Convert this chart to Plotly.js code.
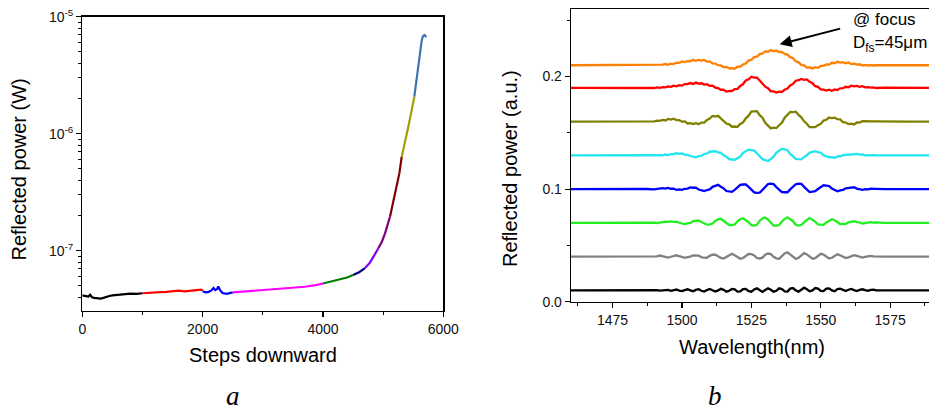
<!DOCTYPE html>
<html>
<head>
<meta charset="utf-8">
<script src="https://cdn.plot.ly/plotly-3.0.1.min.js"></script>
<style>html,body{margin:0;padding:0;background:#fff;}#chart{width:929px;height:414px;}</style>
</head>
<body>
<div id="chart"></div>
<script>
// ---------- Panel a: reflected power vs steps (log scale) ----------
const segColors = ['#000000','#FF0000','#0000FF','#FF00FF','#008000','#000080','#8000FF','#800080','#800000','#A0A000','#3B75AF'];
const segSteps = [
  [0,50,100,130,160,200,250,300,350,400,450,500,600,700,800,900,1000],
  [1000,1100,1200,1300,1400,1500,1600,1700,1800,1900,1980,2000],
  [2000,2050,2100,2150,2180,2210,2240,2260,2290,2330,2400,2450,2500],
  [2500,2700,2900,3100,3300,3500,3700,3900,4000],
  [4000,4100,4200,4300,4400,4500],
  [4500,4600,4700],
  [4700,4780,4840,4880,4920],
  [4920,4980,5030,5080,5114],
  [5114,5170,5225,5270,5309],
  [5309,5360,5419,5470,5518],
  [5518,5550,5585,5613,5640,5658,5685,5700,5713]
];
const segPower = [
  [4.15e-8,4.1e-8,4.05e-8,4.2e-8,4.0e-8,3.95e-8,3.9e-8,3.9e-8,3.95e-8,4.05e-8,4.1e-8,4.15e-8,4.2e-8,4.25e-8,4.3e-8,4.28e-8,4.33e-8],
  [4.33e-8,4.38e-8,4.4e-8,4.42e-8,4.45e-8,4.5e-8,4.55e-8,4.5e-8,4.52e-8,4.6e-8,4.65e-8,4.55e-8],
  [4.5e-8,4.4e-8,4.45e-8,4.6e-8,4.8e-8,4.6e-8,4.7e-8,4.95e-8,4.6e-8,4.35e-8,4.28e-8,4.32e-8,4.4e-8],
  [4.4e-8,4.48e-8,4.55e-8,4.62e-8,4.7e-8,4.8e-8,4.92e-8,5.1e-8,5.25e-8],
  [5.25e-8,5.4e-8,5.55e-8,5.7e-8,5.9e-8,6.2e-8],
  [6.2e-8,6.55e-8,7.1e-8],
  [7.1e-8,7.9e-8,8.9e-8,9.7e-8,1.05e-7],
  [1.05e-7,1.2e-7,1.4e-7,1.7e-7,1.95e-7],
  [1.95e-7,2.6e-7,3.5e-7,4.6e-7,6.36e-7],
  [6.36e-7,8.2e-7,1.15e-6,1.55e-6,2.07e-6],
  [2.07e-6,2.8e-6,4.0e-6,5.2e-6,6.2e-6,6.75e-6,6.97e-6,6.9e-6,6.66e-6]
];
const logTickVals = [1e-7,1e-6,1e-5];
const logTickText = ['10<sup>-7</sup>','10<sup>-6</sup>','10<sup>-5</sup>'];
const logMinorVals = [4e-8,5e-8,6e-8,7e-8,8e-8,9e-8,2e-7,3e-7,4e-7,5e-7,6e-7,7e-7,8e-7,9e-7,2e-6,3e-6,4e-6,5e-6,6e-6,7e-6,8e-6,9e-6];
const stepTicks = [0,2000,4000,6000];
const stepMinor = [1000,3000,5000];

// ---------- Panel b: reflected spectra ----------
const wavelength = [1460,1465,1470,1475,1480,1484,1487,
1490,1491,1492,1493,1494,1495,1496,1497,1498,1499,
1500,1501,1502,1503,1504,1505,1506,1507,1508,1509,
1510,1511,1512,1513,1514,1515,1516,1517,1518,1519,
1520,1521,1522,1523,1524,1525,1526,1527,1528,1529,
1530,1531,1532,1533,1534,1535,1536,1537,1538,1539,
1540,1541,1542,1543,1544,1545,1546,1547,1548,1549,
1550,1551,1552,1553,1554,1555,1556,1557,1558,1559,
1560,1561,1562,1563,1564,1565,1566,1567,1568,1569,
1570,1573,1577,1581,1585,1589];

const specOrange = [0.2100,0.2101,0.2099,0.2101,0.2100,0.2102,0.2099,
0.2102,0.2100,0.2106,0.2105,0.2111,0.2105,0.2115,0.2110,0.2124,0.2121,
0.2134,0.2128,0.2137,0.2135,0.2148,0.2139,0.2148,0.2142,0.2147,0.2132,
0.2134,0.2116,0.2115,0.2101,0.2100,0.2082,0.2086,0.2072,0.2075,0.2069,
0.2087,0.2088,0.2107,0.2115,0.2142,0.2149,0.2172,0.2177,0.2199,0.2206,
0.2223,0.2220,0.2235,0.2226,0.2230,0.2217,0.2219,0.2201,0.2195,0.2172,
0.2163,0.2135,0.2126,0.2104,0.2099,0.2079,0.2080,0.2072,0.2083,0.2077,
0.2094,0.2095,0.2108,0.2106,0.2122,0.2118,0.2131,0.2123,0.2127,0.2118,
0.2125,0.2110,0.2115,0.2106,0.2109,0.2098,0.2104,0.2098,0.2101,0.2098,
0.2102,0.2101,0.2099,0.2101,0.2100,0.2100];

const specRed = [0.1900,0.1899,0.1901,0.1900,0.1900,0.1901,0.1899,
0.1898,0.1903,0.1899,0.1905,0.1903,0.1913,0.1908,0.1919,0.1913,0.1924,
0.1919,0.1933,0.1932,0.1942,0.1934,0.1946,0.1937,0.1940,0.1928,0.1932,
0.1917,0.1919,0.1902,0.1898,0.1881,0.1883,0.1866,0.1872,0.1870,0.1888,
0.1890,0.1916,0.1933,0.1965,0.1976,0.1998,0.1991,0.1991,0.1962,0.1942,
0.1910,0.1897,0.1869,0.1868,0.1858,0.1866,0.1863,0.1883,0.1893,0.1920,
0.1934,0.1963,0.1967,0.1979,0.1971,0.1974,0.1953,0.1941,0.1914,0.1908,
0.1885,0.1884,0.1875,0.1883,0.1874,0.1885,0.1880,0.1895,0.1896,0.1909,
0.1904,0.1919,0.1912,0.1917,0.1909,0.1915,0.1904,0.1906,0.1901,0.1903,
0.1898,0.1901,0.1900,0.1899,0.1901,0.1900];

const specOlive = [0.1600,0.1601,0.1599,0.1600,0.1601,0.1599,0.1600,
0.1601,0.1608,0.1606,0.1615,0.1610,0.1623,0.1617,0.1626,0.1613,0.1612,
0.1599,0.1601,0.1583,0.1586,0.1578,0.1585,0.1577,0.1591,0.1591,0.1614,
0.1627,0.1650,0.1645,0.1651,0.1628,0.1613,0.1582,0.1575,0.1554,0.1556,
0.1553,0.1578,0.1592,0.1629,0.1652,0.1688,0.1693,0.1692,0.1657,0.1634,
0.1588,0.1564,0.1539,0.1546,0.1542,0.1567,0.1590,0.1634,0.1657,0.1685,
0.1684,0.1688,0.1659,0.1637,0.1602,0.1581,0.1550,0.1553,0.1550,0.1568,
0.1579,0.1609,0.1616,0.1636,0.1631,0.1635,0.1621,0.1619,0.1594,0.1591,
0.1578,0.1582,0.1575,0.1592,0.1591,0.1604,0.1602,0.1605,0.1604,0.1601,
0.1602,0.1600,0.1601,0.1599,0.1600,0.1600];

const specCyan = [0.1300,0.1301,0.1299,0.1300,0.1301,0.1299,0.1300,
0.1302,0.1299,0.1303,0.1300,0.1307,0.1302,0.1311,0.1311,0.1318,0.1313,
0.1317,0.1307,0.1305,0.1294,0.1291,0.1282,0.1292,0.1296,0.1311,0.1316,
0.1332,0.1332,0.1336,0.1327,0.1322,0.1300,0.1287,0.1266,0.1264,0.1261,
0.1275,0.1289,0.1322,0.1338,0.1351,0.1346,0.1342,0.1318,0.1295,0.1266,
0.1257,0.1249,0.1267,0.1288,0.1322,0.1341,0.1359,0.1354,0.1344,0.1312,
0.1291,0.1269,0.1266,0.1264,0.1284,0.1300,0.1324,0.1330,0.1337,0.1329,
0.1323,0.1301,0.1294,0.1283,0.1283,0.1279,0.1291,0.1292,0.1301,0.1303,
0.1310,0.1312,0.1308,0.1312,0.1306,0.1308,0.1299,0.1301,0.1298,0.1301,
0.1299,0.1300,0.1301,0.1299,0.1300,0.1300];

const specBlue = [0.1000,0.1001,0.0999,0.1000,0.1001,0.0999,0.1001,
0.0998,0.1003,0.1003,0.1009,0.1004,0.1011,0.1003,0.1003,0.0994,0.0997,
0.0993,0.1003,0.1005,0.1015,0.1012,0.1013,0.0996,0.0991,0.0983,0.0992,
0.0997,0.1020,0.1031,0.1038,0.1021,0.1007,0.0983,0.0979,0.0976,0.0993,
0.1012,0.1038,0.1041,0.1042,0.1019,0.0999,0.0971,0.0967,0.0969,0.0993,
0.1016,0.1045,0.1048,0.1044,0.1018,0.0999,0.0974,0.0972,0.0972,0.0998,
0.1017,0.1043,0.1048,0.1047,0.1020,0.0999,0.0974,0.0977,0.0981,0.1001,
0.1015,0.1034,0.1031,0.1026,0.1006,0.0995,0.0981,0.0989,0.0994,0.1007,
0.1010,0.1013,0.1016,0.1005,0.1002,0.0993,0.0999,0.0997,0.1003,0.1000,
0.1002,0.1000,0.1001,0.0999,0.1000,0.1000];

const specGreen = [0.0700,0.0701,0.0699,0.0700,0.0701,0.0699,0.0700,
0.0701,0.0698,0.0703,0.0703,0.0711,0.0709,0.0714,0.0709,0.0710,0.0701,
0.0698,0.0690,0.0696,0.0700,0.0715,0.0718,0.0721,0.0707,0.0697,0.0684,
0.0687,0.0694,0.0718,0.0731,0.0736,0.0717,0.0700,0.0681,0.0681,0.0686,
0.0714,0.0732,0.0741,0.0726,0.0706,0.0679,0.0675,0.0683,0.0718,0.0739,
0.0748,0.0730,0.0707,0.0675,0.0675,0.0681,0.0712,0.0736,0.0749,0.0735,
0.0715,0.0683,0.0676,0.0682,0.0707,0.0727,0.0743,0.0730,0.0711,0.0686,
0.0682,0.0683,0.0704,0.0720,0.0733,0.0723,0.0710,0.0690,0.0690,0.0691,
0.0705,0.0710,0.0716,0.0707,0.0704,0.0694,0.0698,0.0698,0.0706,0.0703,
0.0704,0.0700,0.0701,0.0699,0.0700,0.0700];

const specGray = [0.0400,0.0401,0.0399,0.0400,0.0401,0.0399,0.0400,
0.0401,0.0403,0.0410,0.0403,0.0399,0.0392,0.0399,0.0404,0.0412,0.0404,
0.0398,0.0390,0.0395,0.0400,0.0412,0.0414,0.0410,0.0394,0.0390,0.0390,
0.0407,0.0417,0.0418,0.0400,0.0389,0.0383,0.0399,0.0414,0.0426,0.0413,
0.0396,0.0381,0.0388,0.0404,0.0424,0.0423,0.0411,0.0388,0.0384,0.0391,
0.0417,0.0428,0.0423,0.0398,0.0385,0.0381,0.0407,0.0428,0.0439,0.0418,
0.0396,0.0379,0.0390,0.0410,0.0431,0.0420,0.0402,0.0382,0.0387,0.0406,
0.0426,0.0418,0.0402,0.0384,0.0390,0.0406,0.0421,0.0412,0.0399,0.0387,
0.0394,0.0403,0.0413,0.0406,0.0399,0.0392,0.0399,0.0401,0.0407,0.0402,
0.0401,0.0400,0.0401,0.0399,0.0400,0.0400];

const specBlack = [0.0100,0.0101,0.0099,0.0100,0.0101,0.0099,0.0100,
0.0100,0.0102,0.0098,0.0102,0.0100,0.0105,0.0097,0.0100,0.0108,0.0098,
0.0094,0.0103,0.0110,0.0100,0.0092,0.0105,0.0111,0.0097,0.0090,0.0103,
0.0113,0.0102,0.0090,0.0100,0.0114,0.0105,0.0089,0.0097,0.0113,0.0110,
0.0090,0.0092,0.0111,0.0114,0.0094,0.0089,0.0108,0.0118,0.0100,0.0087,
0.0103,0.0119,0.0106,0.0089,0.0097,0.0119,0.0113,0.0092,0.0090,0.0116,
0.0121,0.0100,0.0089,0.0108,0.0124,0.0110,0.0092,0.0100,0.0121,0.0116,
0.0095,0.0094,0.0116,0.0118,0.0100,0.0092,0.0111,0.0116,0.0103,0.0094,
0.0106,0.0113,0.0103,0.0095,0.0105,0.0110,0.0102,0.0097,0.0105,0.0106,
0.0100,0.0101,0.0100,0.0099,0.0100,0.0100];

const specSeries = [specBlack, specGray, specGreen, specBlue, specCyan, specOlive, specRed, specOrange];
const specColors = ['#000000','#808080','#22EE22','#0000FF','#22E5F0','#808000','#FF0000','#FF8000'];
const wlTicks = [1475,1500,1525,1550,1575];
const wlMinor = [1462.5,1487.5,1512.5,1537.5,1562.5,1587.5];
const specTickVals = [0,0.1,0.2];
const specTickText = ['0.0','0.1','0.2'];
const specMinor = [0.05,0.15,0.25];

const traces = [];
segSteps.forEach((xs, i) => {
  traces.push({x: xs, y: segPower[i], type: 'scatter', mode: 'lines',
    line: {color: segColors[i], width: 2.2}, xaxis: 'x', yaxis: 'y', hoverinfo: 'skip'});
});
specSeries.forEach((ys, i) => {
  traces.push({x: wavelength, y: ys, type: 'scatter', mode: 'lines',
    line: {color: specColors[i], width: 2.3}, xaxis: 'x2', yaxis: 'y2', hoverinfo: 'skip'});
});

const F = 'Liberation Sans, Arial, sans-serif';
const axCommon = {showgrid: false, zeroline: false, linecolor: '#000', linewidth: 1.3,
  ticks: 'outside', ticklen: 5, tickwidth: 1.2, tickcolor: '#000',
  tickfont: {family: F, size: 14, color: '#111'}};

const layout = {
  width: 929, height: 414,
  margin: {l: 0, r: 0, t: 0, b: 0},
  paper_bgcolor: '#fff', plot_bgcolor: '#fff',
  showlegend: false,
  font: {family: F, color: '#000'},
  xaxis: Object.assign({}, axCommon, {domain: [0.0886, 0.4772], range: [0, 6000],
    tickmode: 'array', tickvals: stepTicks, ticktext: stepTicks.map(String), mirror: true,
    minor: {tickmode: 'array', tickvals: stepMinor, ticks: 'outside', ticklen: 3, tickcolor: '#000', tickwidth: 1}}),
  yaxis: Object.assign({}, axCommon, {domain: [0.2495, 0.9597], type: 'log',
    range: [Math.log10(3.07e-8), -5], tickmode: 'array', tickvals: logTickVals, ticktext: logTickText, mirror: true,
    minor: {tickmode: 'array', tickvals: logMinorVals, ticks: 'outside', ticklen: 3, tickcolor: '#000', tickwidth: 1}}),
  xaxis2: Object.assign({}, axCommon, {domain: [0.6146, 1.0], range: [1460, 1589], anchor: 'y2',
    tickmode: 'array', tickvals: wlTicks, ticktext: wlTicks.map(String), mirror: true,
    minor: {tickmode: 'array', tickvals: wlMinor, ticks: 'outside', ticklen: 3, tickcolor: '#000', tickwidth: 1}}),
  yaxis2: Object.assign({}, axCommon, {domain: [0.2713, 0.9783], range: [0, 0.26], anchor: 'x2',
    tickmode: 'array', tickvals: specTickVals, ticktext: specTickText, mirror: false,
    minor: {tickmode: 'array', tickvals: specMinor, ticks: 'outside', ticklen: 3, tickcolor: '#000', tickwidth: 1}}),
  annotations: [
    {xref: 'paper', yref: 'paper', x: 263/929, y: (414-355)/414, text: 'Steps downward', showarrow: false,
     font: {family: F, size: 20, color: '#000'}, xanchor: 'center', yanchor: 'middle'},
    {xref: 'paper', yref: 'paper', x: 18/929, y: (414-169.5)/414, text: 'Reflected power (W)', showarrow: false,
     textangle: -90, font: {family: F, size: 20, color: '#000'}, xanchor: 'center', yanchor: 'middle'},
    {xref: 'paper', yref: 'paper', x: 751.7/929, y: (414-346.7)/414, text: 'Wavelength(nm)', showarrow: false,
     font: {family: F, size: 20, color: '#000'}, xanchor: 'center', yanchor: 'middle'},
    {xref: 'paper', yref: 'paper', x: 510/929, y: (414-169)/414, text: 'Reflected power (a.u.)', showarrow: false,
     textangle: -90, font: {family: F, size: 20, color: '#000'}, xanchor: 'center', yanchor: 'middle'},
    {xref: 'paper', yref: 'paper', x: 233/929, y: 1/414, text: '<i>a</i>', showarrow: false,
     font: {family: 'Liberation Serif, Times New Roman, serif', size: 27, color: '#000'}, xanchor: 'center', yanchor: 'bottom'},
    {xref: 'paper', yref: 'paper', x: 715/929, y: 1/414, text: '<i>b</i>', showarrow: false,
     font: {family: 'Liberation Serif, Times New Roman, serif', size: 27, color: '#000'}, xanchor: 'center', yanchor: 'bottom'},
    {xref: 'x2', yref: 'y2', x: 1535.2, y: 0.2287, text: '', showarrow: true, ax: 62, ay: -16,
     arrowhead: 2, arrowsize: 1.2, arrowwidth: 2, arrowcolor: '#000', standoff: 0},
    {xref: 'x2', yref: 'y2', x: 1561.0, y: 0.2508, text: '@ focus', showarrow: false,
     font: {family: F, size: 17, color: '#000'}, xanchor: 'left', yanchor: 'middle'},
    {xref: 'x2', yref: 'y2', x: 1561.0, y: 0.2290, text: 'D<sub>fs</sub>=45μm', showarrow: false,
     font: {family: F, size: 17, color: '#000'}, xanchor: 'left', yanchor: 'middle'}
  ]
};

Plotly.newPlot('chart', traces, layout, {displayModeBar: false, staticPlot: true});
</script>
</body>
</html>
